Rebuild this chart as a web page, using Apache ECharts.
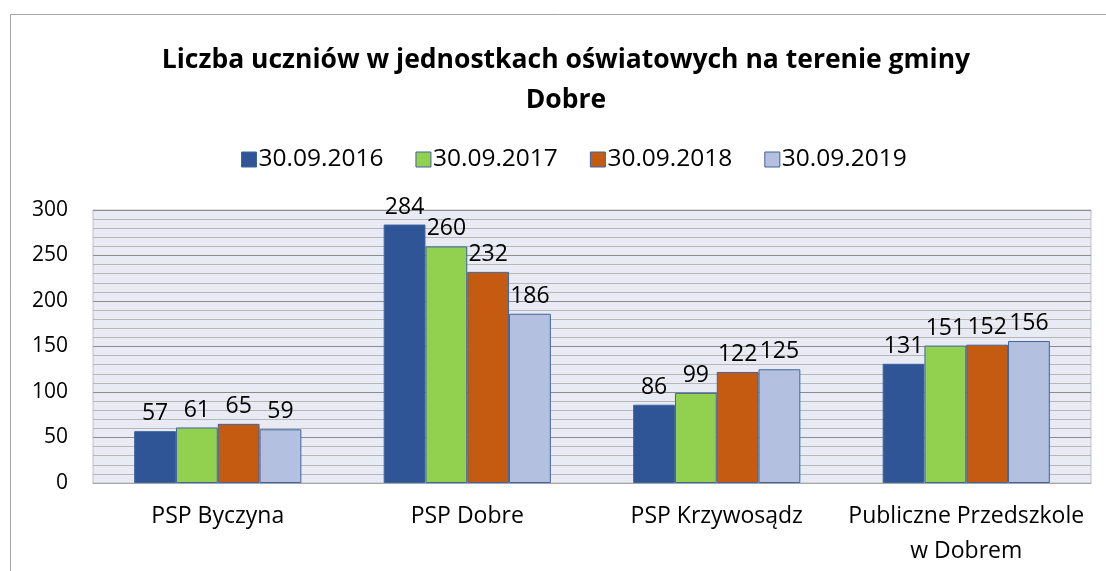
<!DOCTYPE html>
<html>
<head>
<meta charset="utf-8">
<script src="https://cdn.jsdelivr.net/npm/echarts@6/dist/echarts.min.js"></script>
<style>
  html, body { margin: 0; padding: 0; background: #fff; }
  #main { width: 1106px; height: 571px; }
</style>
</head>
<body>
<div id="main"></div>
<script>
var categories = ['PSP Byczyna', 'PSP Dobre', 'PSP Krzywosądz', 'Publiczne Przedszkole\nw Dobrem'];
var dates = ['30.09.2016', '30.09.2017', '30.09.2018', '30.09.2019'];
var v2016 = [57, 284, 86, 131];
var v2017 = [61, 260, 99, 151];
var v2018 = [65, 232, 122, 152];
var v2019 = [59, 186, 125, 156];
var colors = ['#2F5597', '#92D050', '#C55A11', '#B4C0E0'];

var font = '"Open Sans", "Noto Sans", sans-serif';
var values = [v2016, v2017, v2018, v2019];

var series = dates.map(function (d, i) {
  return {
    name: d,
    type: 'bar',
    data: values[i],
    barGap: '0%',
    barCategoryGap: '33%',
    itemStyle: { color: colors[i], borderColor: '#3F64A0', borderWidth: 1 },
    label: {
      show: true,
      position: 'top',
      distance: 6,
      color: '#000',
      fontSize: 23,
      fontFamily: font
    }
  };
});

var chart = echarts.init(document.getElementById('main'));
chart.setOption({
  animation: false,
  color: colors,
  title: {
    text: 'Liczba uczniów w jednostkach oświatowych na terenie gminy\nDobre',
    left: 561,
    textAlign: 'center',
    top: 35,
    textStyle: { fontFamily: font, fontWeight: 'bold', fontSize: 26.5, color: '#000', lineHeight: 40 }
  },
  legend: {
    top: 142,
    left: 236,
    itemWidth: 15,
    itemHeight: 15,
    itemGap: 32,
    icon: 'rect',
    textStyle: { fontFamily: font, fontSize: 24.5, color: '#000', padding: [0, 0, 0, -3] },
    data: dates.map(function (d) {
      return { name: d, itemStyle: { borderColor: '#3F64A0', borderWidth: 1 } };
    })
  },
  graphic: [{
    type: 'rect',
    shape: { x: 10.5, y: 14.5, width: 1200, height: 700 },
    style: { fill: 'none', stroke: '#A6A6A6', lineWidth: 1 },
    silent: true
  }],
  grid: {
    left: 93, right: 15, top: 210, bottom: 88,
    show: true,
    backgroundColor: '#E8EAF4',
    borderColor: '#BFBFBF',
    borderWidth: 1
  },
  xAxis: {
    type: 'category',
    data: categories,
    axisTick: { show: false },
    axisLine: { lineStyle: { color: '#A6A6A6' } },
    axisLabel: {
      interval: 0,
      hideOverlap: false,
      fontFamily: font, fontSize: 23, color: '#000', margin: 16, lineHeight: 35
    }
  },
  yAxis: {
    type: 'value',
    min: 0,
    max: 300,
    interval: 50,
    axisLine: { show: false },
    axisTick: { show: false },
    axisLabel: { fontFamily: font, fontSize: 21, color: '#000', margin: 25 },
    splitLine: { lineStyle: { color: '#8C8C8C', width: 1 } },
    minorTick: { show: false, splitNumber: 5 },
    minorSplitLine: { show: true, lineStyle: { color: '#B7B7B7', width: 1 } }
  },
  series: series
});
</script>
</body>
</html>
